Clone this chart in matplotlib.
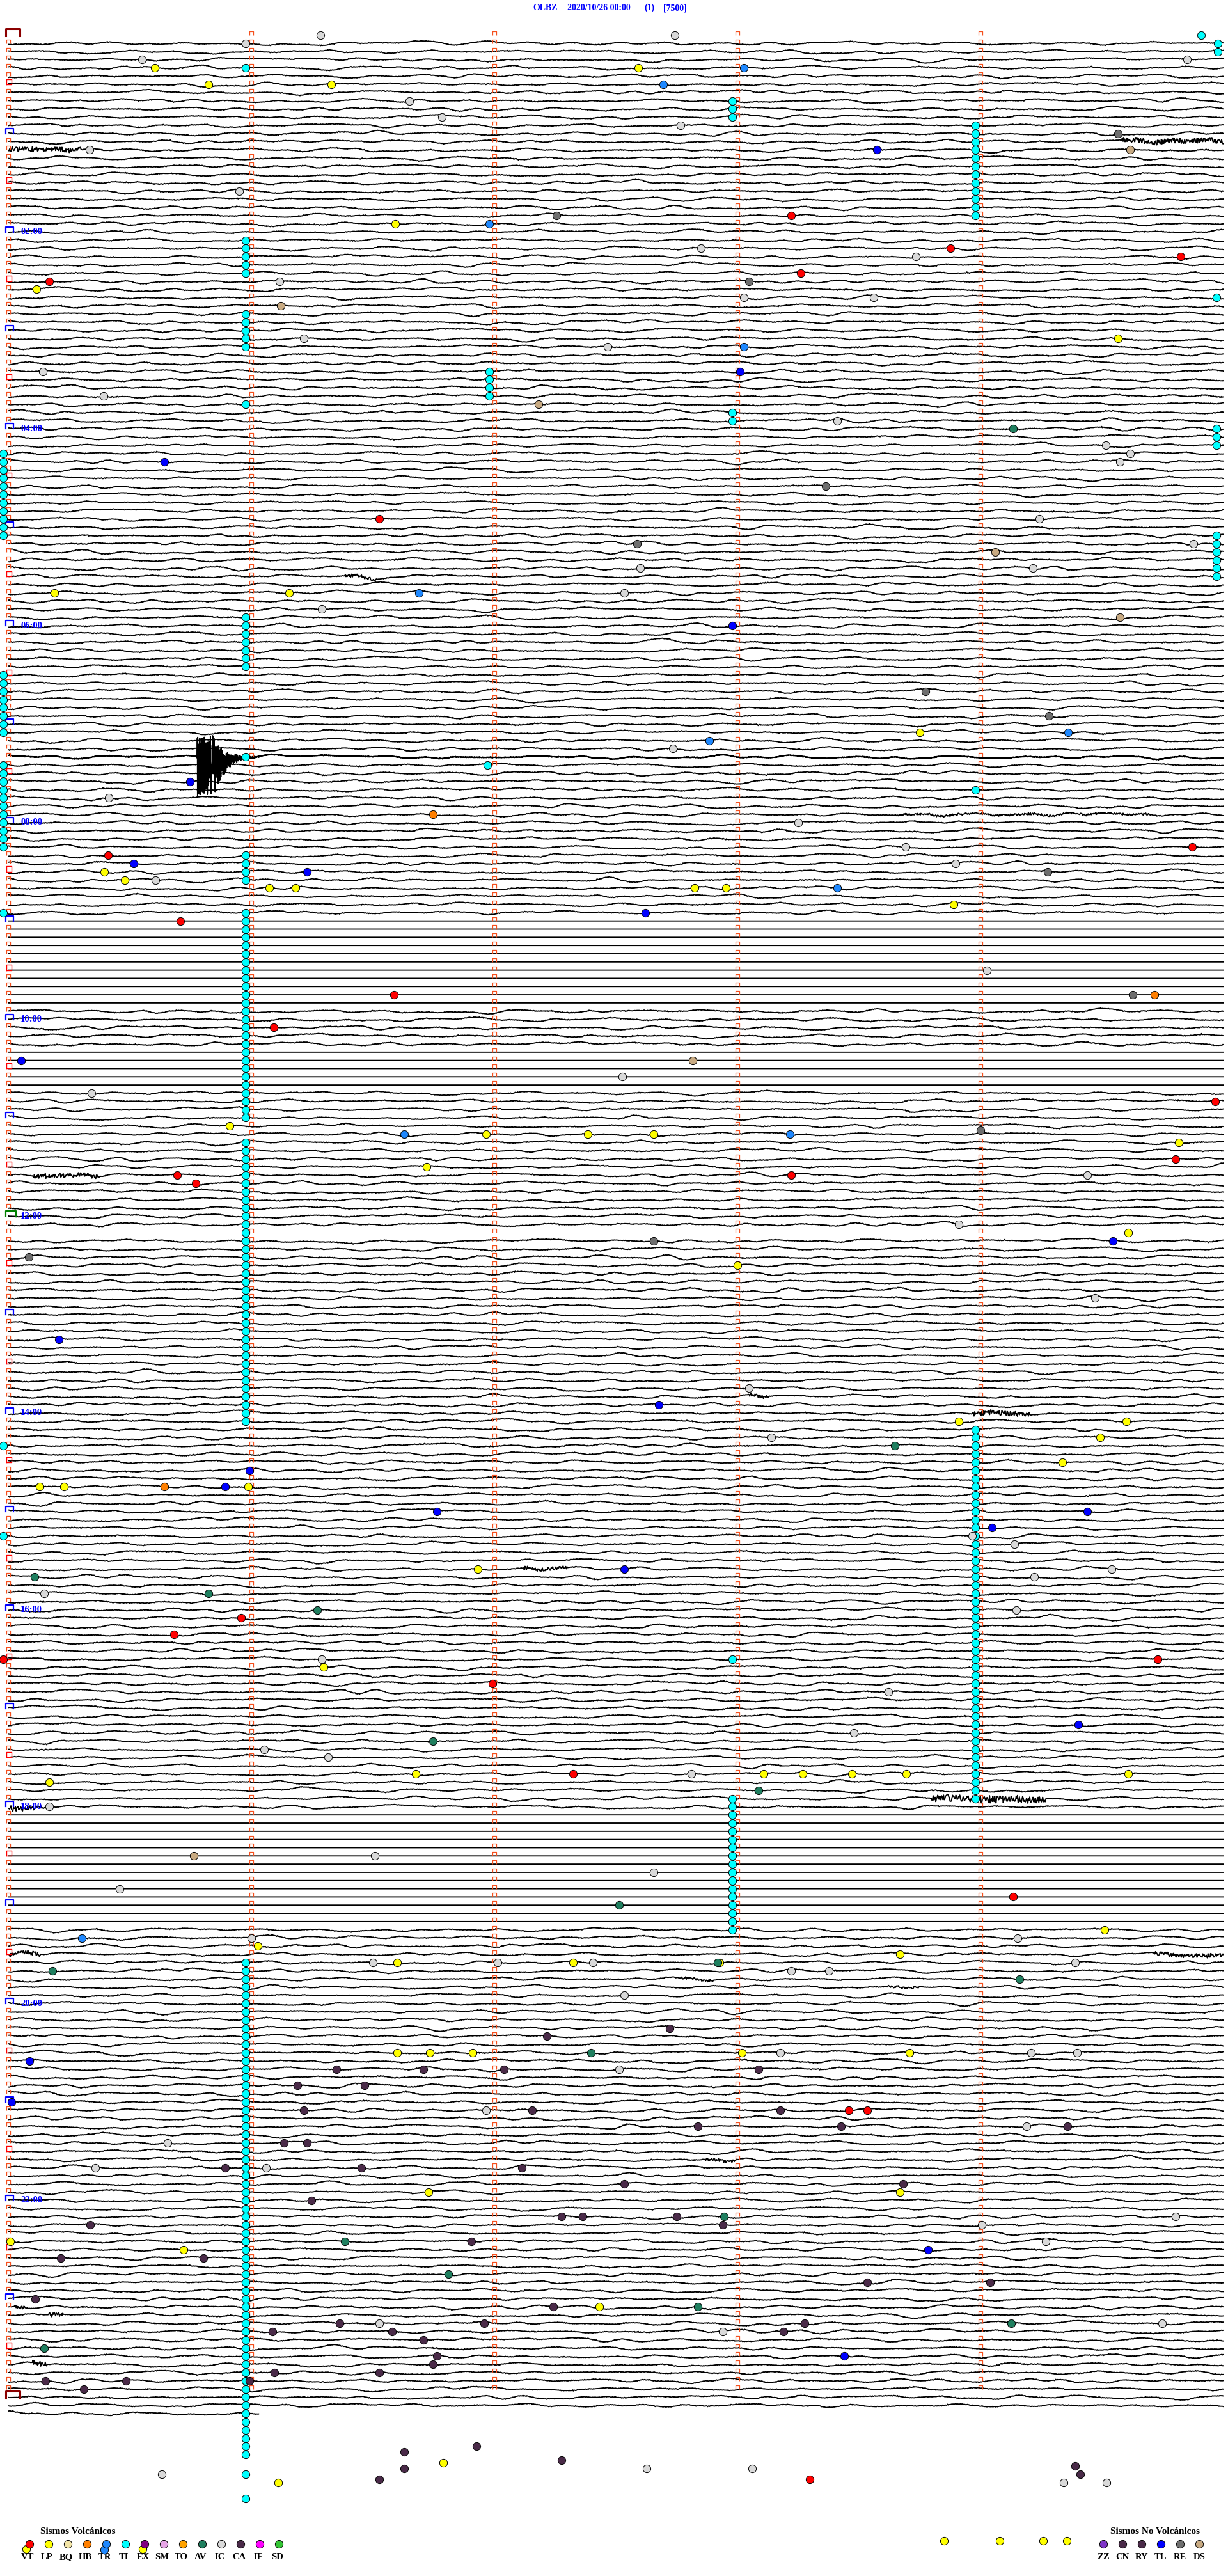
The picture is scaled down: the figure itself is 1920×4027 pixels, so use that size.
import numpy as np
import matplotlib.pyplot as plt
from matplotlib.collections import LineCollection

plt.rcParams['font.family'] = ['Liberation Serif', 'DejaVu Serif']

# header
station = 'OLBZ'
start_stamp = '2020/10/26 00:00'
channel_tag = '(1)'
scale_tag = '[7500]'

# helicorder layout: one line = 5 minutes, x in seconds of the line, line 0 = 00:00
n_lines = 291
last_line_secs = 62
flat_lines = list(range(108, 119)) + list(range(124, 129)) + list(range(217, 231))
missing_lines = [146]
hour_lines = [24, 48, 72, 96, 120, 144, 168, 192, 216, 240, 264]
hour_labels = ['02:00', '04:00', '06:00', '08:00', '10:00', '12:00',
               '14:00', '16:00', '18:00', '20:00', '22:00']

# bursts of high-frequency signal: (line, start s, end s, amplitude in lines)
bursts = [(13, 274.5, 300, 0.3), (14, 0, 18, 0.3), (66, 83, 91, 0.2),
          (95, 219, 282, 0.12), (139, 6, 22, 0.25), (166, 182, 188, 0.2),
          (168, 238, 252, 0.3), (187, 127, 138, 0.22), (215, 228, 256, 0.45),
          (216, 0, 8, 0.3), (234, 0, 8, 0.25), (234, 283, 300, 0.25),
          (237, 166, 174, 0.15), (238, 217, 225, 0.15), (259, 172, 180, 0.15),
          (277, 1.5, 4, 0.2), (278, 10, 13.5, 0.25), (284, 6, 9.5, 0.3)]
# the large event: line, onset s, end of strong phase s, end s, amplitude (lines)
big_event = (88, 46.6, 50.5, 62.0, 3.8)

# classified events: (seconds into line, line)
ev_VT = [(193.3, 22), (232.6, 26), (289.4, 27), (195.7, 29), (10.1, 30), (91.6, 59),
         (24.6, 100), (292.2, 99), (95.2, 117), (65.6, 121), (42.4, 108), (297.9, 130),
         (288.1, 137), (41.7, 139), (46.2, 140), (193.3, 139), (40.9, 195), (57.5, 193),
         (-1.2, 198), (283.7, 198), (119.5, 201), (139.4, 212), (248, 227), (207.5, 253),
         (212, 253), (197.8, 298)]
ev_LP = [(36.1, 4), (155.6, 4), (49.4, 6), (79.8, 6), (95.6, 23), (6.9, 31), (274, 37),
         (11.3, 68), (69.3, 68), (225, 85), (23.7, 102), (28.7, 103), (64.4, 104),
         (70.9, 104), (169.4, 104), (177.1, 104), (233.4, 106), (54.7, 133), (117.9, 134),
         (143, 134), (159.3, 134), (289, 135), (103.3, 138), (276.4, 146), (180, 150),
         (234.6, 169), (276, 169), (269.5, 171), (260.2, 174), (7.7, 177), (13.8, 177),
         (59.2, 177), (115.9, 187), (77.8, 199), (100.5, 212), (276.4, 212), (10.1, 213),
         (186.4, 212), (196.1, 212), (208.3, 212), (221.7, 212), (61.6, 233), (270.7, 231),
         (96, 235), (139.4, 235), (175.5, 235), (220.1, 234), (96, 246), (104.1, 246),
         (114.7, 246), (181.1, 246), (222.5, 246), (103.7, 263), (220.1, 263), (0.4, 269),
         (43.3, 270), (145.9, 277), (107.4, 296), (66.6, 298.4),
         (231, 305.5), (244.8, 305.5), (255.5, 305.5), (261.3, 305.5)]
ev_IC = [(77, 0), (164.5, 0), (58.6, 1), (33, 3), (291, 3), (20, 14), (99, 8), (107, 10),
         (166, 11), (57, 19), (171, 26), (224, 27), (67, 30), (181.5, 32), (213.6, 32),
         (148, 38), (73, 37), (8.5, 41), (23.5, 44), (204.6, 47), (271, 50), (277, 51),
         (274.4, 52), (254.5, 59), (292.6, 62), (156, 65), (253, 65), (152, 68), (77.4, 70),
         (164, 87), (24.8, 93), (195, 96), (221.5, 99), (233.8, 101), (36.3, 103),
         (241.5, 114), (151.6, 127), (20.6, 129), (266.3, 139), (234.6, 145), (268.3, 154),
         (182.8, 165), (188.4, 171), (237.9, 183), (248.4, 184), (272.3, 187), (253.3, 188),
         (8.9, 190), (248.8, 192), (77.4, 198), (217.2, 202), (208.7, 207), (63.2, 209),
         (79, 210), (168.6, 212), (10.1, 216), (90.4, 222), (159.3, 224), (27.5, 226),
         (60, 232), (249.2, 232), (90, 235), (120.8, 235), (144.3, 235), (193.3, 236),
         (202.6, 236), (263.4, 235), (152, 239), (190.5, 246), (252.5, 246), (263.8, 246),
         (150.8, 248), (117.9, 253), (251.3, 255), (39.3, 257), (63.6, 260), (21.5, 260),
         (240.3, 267), (288.1, 266), (256.1, 269), (91.6, 279), (284.9, 279), (176.3, 280),
         (37.9, 297.4), (157.6, 296.7), (183.6, 296.7), (260.5, 298.4), (271.1, 298.4)]
ev_RE = [(274, 12), (135.3, 22), (182.8, 30), (201.8, 55), (155.2, 62), (226.4, 80),
         (256.9, 83), (256.5, 102), (277.6, 117), (240, 133.5), (159.3, 147), (5, 149)]
ev_DS = [(277, 14), (67.3, 33), (130.9, 45), (243.6, 63), (274.4, 71), (169, 125), (45.8, 222)]
ev_TL = [(214.4, 14), (180.7, 41), (38.5, 52), (178.7, 72), (44.9, 91), (31, 101), (73.7, 102),
         (157.2, 107), (3.2, 125), (272.7, 147), (12.5, 159), (160.5, 167), (59.6, 175),
         (53.5, 177), (105.8, 180), (266.3, 180), (242.8, 182), (152, 187), (264.2, 206),
         (5.2, 247), (0.8, 252), (227, 270), (206.3, 283)]
ev_TR = [(181.5, 4), (161.7, 6), (118.7, 23), (181.5, 38), (101.3, 68), (173, 86), (261.6, 85),
         (204.6, 104), (97.7, 134), (192.9, 134), (18.2, 232)]
ev_HB = [(104.9, 95), (282.9, 117), (38.5, 177)]
ev_AV = [(248, 48), (218.8, 172), (6.5, 188), (49.4, 190), (76.2, 192), (104.9, 208),
         (185.2, 214), (150.8, 228), (10.9, 236), (175.1, 235), (249.6, 237), (143.9, 246),
         (176.7, 266), (83.1, 269), (108.6, 273), (170.2, 277), (247.6, 279), (8.8, 282)]
ev_CA = [(133, 244), (163.3, 243), (81, 248), (102.5, 248), (122.4, 248), (185.2, 248),
         (71.3, 250), (87.9, 250), (72.9, 253), (129.3, 253), (190.5, 253), (170.2, 255),
         (205.5, 255), (261.4, 255), (68.1, 257), (73.7, 257), (53.5, 260), (87.1, 260),
         (126.8, 260), (152, 262), (220.9, 262), (74.9, 264), (136.6, 266), (141.8, 266),
         (165, 266), (20.2, 267), (176.3, 267), (114.3, 269), (12.9, 271), (48.2, 271),
         (212, 274), (242.3, 274), (134.5, 277), (81.8, 279), (117.5, 279), (196.5, 279),
         (65.2, 280), (94.8, 280), (191.3, 280), (102.5, 281), (105.8, 283), (104.9, 284),
         (6.6, 276), (9.2, 286), (29, 286), (18.6, 287), (65.7, 285), (59.5, 286), (91.6, 285),
         (91.6, 298), (97.7, 294.7), (97.7, 296.7), (115.5, 294), (136.6, 295.7),
         (263.4, 296.4), (264.6, 297.4)]
ev_TI = [(294.5, 0), (298.6, 1), (298.6, 2), (58.6, 4), (298.3, 32), (58.6, 45), (58.6, 88),
         (118.3, 89), (238.7, 92), (-1.2, 107), (-1.2, 172), (-1.2, 183), (178.7, 198),
         (58.6, 297.4), (58.6, 300.4)]
# continuous tremor marks: (seconds, first line, last line)
ti_runs = [(178.7, 8, 10), (238.7, 11, 22), (58.6, 25, 29), (58.6, 34, 38), (118.7, 41, 44),
           (178.7, 46, 47), (298.3, 48, 50), (-1.2, 51, 61), (298.3, 61, 66), (58.6, 71, 77),
           (-1.2, 78, 85), (-1.2, 89, 99), (58.6, 100, 103), (58.6, 107, 132),
           (58.6, 135, 169), (238.7, 170, 215), (178.7, 215, 231), (58.6, 235, 295)]

volc_codes = ['VT', 'LP', 'BQ', 'HB', 'TR', 'TI', 'EX', 'SM', 'TO', 'AV', 'IC', 'CA', 'IF', 'SD']
nonvolc_codes = ['ZZ', 'CN', 'RY', 'TL', 'RE', 'DS']
colors = {'VT': '#ff0000', 'LP': '#ffff00', 'BQ': '#f2e4a6', 'HB': '#ff7f00', 'TR': '#1e88ff',
          'TI': '#00ffff', 'EX': '#800080', 'SM': '#e6a6e6', 'TO': '#ffa200', 'AV': '#1f7f5f',
          'IC': '#d9d9d9', 'CA': '#4a2a48', 'IF': '#ff00ff', 'SD': '#33c433', 'ZZ': '#7f35c8',
          'CN': '#4a2a48', 'RY': '#4a2a48', 'TL': '#0000ff', 'RE': '#6e6e6e', 'DS': '#c8aa82'}

fig = plt.figure(figsize=(19.2, 40.27), dpi=100)
ax = fig.add_axes([0, 0, 1, 1])
ax.set_xlim(-2.053, 301.1)
ax.set_ylim(309.8, -4.29)
ax.axis('off')

# traces (background microseism is only texture, drawn from a seeded generator)
rng = np.random.default_rng(26)
k = np.arange(-50, 51)
kern = np.exp(-0.5 * (k / 11.0) ** 2)
kern /= kern.sum()
segs = []
for line in range(1, n_lines):
    if line in missing_lines:
        continue
    dt = 0.04 if line == big_event[0] else 0.16
    t = np.arange(0, 300.01, dt)
    if line == n_lines - 1:
        t = t[t <= last_line_secs]
    if line in flat_lines:
        y = np.zeros(t.size)
    else:
        step = int(round(0.16 / dt))
        n0 = t[::step].size
        slow = np.convolve(rng.standard_normal(n0 + 100), kern, mode='valid')[:n0]
        slow = np.interp(t, t[::step], slow)
        y = slow / slow.std() * 0.11 + rng.standard_normal(t.size) * 0.025
    for bl, t0, t1, amp in bursts:
        if bl == line:
            m = (t >= t0) & (t <= t1)
            y[m] += rng.uniform(-1, 1, m.sum()) * amp
    if line == big_event[0]:
        _, on, pk, end, amp = big_event
        env = np.where(t < pk, 1.0, np.exp(-(t - pk) / ((end - pk) / 4)))
        env = np.where((t >= on) & (t <= end), env, 0)
        y += rng.uniform(-0.7, 1.3, t.size) * amp * env
    segs.append(np.column_stack([t, line + y]))
ax.add_collection(LineCollection(segs, colors='black', linewidths=1.35, zorder=2))

# minute ticks
tick_segs = []
for line in range(0, 288):
    for m in range(5):
        x = 60 * m
        if m == 0 and line % 6 == 0:
            continue
        tick_segs.append([(x - 0.47, line), (x - 0.47, line - 0.47),
                          (x + 0.47, line - 0.47), (x + 0.47, line)])
ax.add_collection(LineCollection(tick_segs, colors='#f5501e', linewidths=0.9, zorder=3))

# half hour squares, hour and day brackets
for line in range(6, 288, 12):
    ax.plot([-0.47, -0.47, 0.79, 0.79, -0.47], [line, line - 0.65, line - 0.65, line, line],
            color='#ff0000', lw=1.0, zorder=3)
for line in range(12, 288, 12):
    c = '#008000' if line == 144 else '#0000ff'
    w = 1.9 if line == 144 else 1.26
    ax.plot([-0.63, -0.63, w, w], [line, line - 0.62, line - 0.62, line], color=c, lw=1.6, zorder=3)
for line in (0, 288):
    ax.plot([-0.63, -0.63, 2.84, 2.84], [line + 0.1, line - 0.75, line - 0.75, line + 0.1],
            color='#8b0000', lw=2.2, zorder=3)

for line, lab in zip(hour_lines, hour_labels):
    ax.text(3.0, line, lab, color='#0000ff', fontsize=10.5, fontweight='bold',
            ha='left', va='center', zorder=4)

# header
for x, s in zip([129.5, 138.0, 157.0, 161.7], [station, start_stamp, channel_tag, scale_tag]):
    ax.text(x, -3.3, s, color='#0000ff', fontsize=10, fontweight='bold', ha='left', va='center')


def draw_events(pts, code, z=5):
    if not pts:
        return
    xs, ys = zip(*pts)
    ax.plot(xs, ys, 'o', ms=8.8, mfc=colors[code], mec='black', mew=0.7, ls='none', zorder=z)


ti_pts = [(x, r) for x, a, b in ti_runs for r in range(a, b + 1)] + ev_TI
draw_events(ti_pts, 'TI')
for pts, code in [(ev_IC, 'IC'), (ev_RE, 'RE'), (ev_DS, 'DS'), (ev_LP, 'LP'), (ev_VT, 'VT'),
                  (ev_TL, 'TL'), (ev_TR, 'TR'), (ev_HB, 'HB'), (ev_AV, 'AV'), (ev_CA, 'CA')]:
    draw_events(pts, code, z=6)

# legends
ax.text(7.9, 304.4, 'Sismos Volcánicos', fontsize=11, fontweight='bold', ha='left', va='center')
ax.text(283.1, 304.4, 'Sismos No Volcánicos', fontsize=11, fontweight='bold', ha='center', va='center')
draw_events([(4.4, 306.5)], 'LP', z=5)
draw_events([(23.7, 306.6)], 'TR', z=5)
draw_events([(33.2, 306.5)], 'LP', z=5)
for i, code in enumerate(volc_codes):
    x = 5.2 + 4.74 * i
    draw_events([(x, 305.9)], code, z=6)
    ax.text(x - 0.4, 307.5, code, fontsize=10.5, fontweight='bold', ha='center', va='center')
for i, code in enumerate(nonvolc_codes):
    x = 270.3 + 4.74 * i
    draw_events([(x, 305.9)], code, z=6)
    ax.text(x, 307.5, code, fontsize=10.5, fontweight='bold', ha='center', va='center')

fig.savefig('out.png', dpi=100)
